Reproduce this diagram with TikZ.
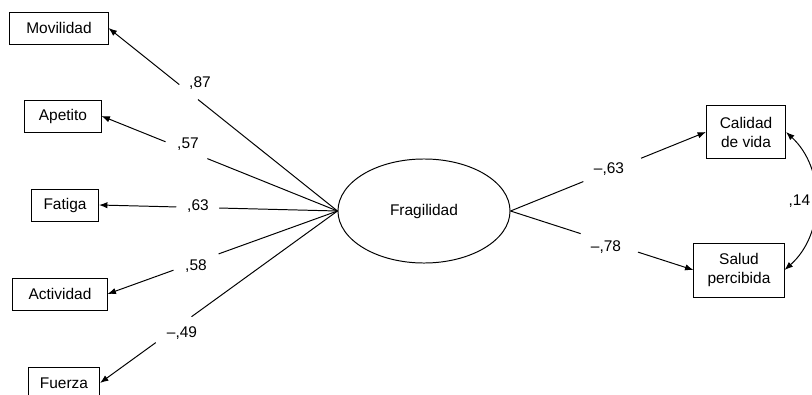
\documentclass[tikz,border=0pt]{standalone}
\usepackage{fontspec}
\setmainfont{Liberation Sans}
\usepackage{tikz}
\usetikzlibrary{arrows.meta, positioning, shapes.geometric}
\tikzset{every node/.style={font=\fontsize{11}{13.5}\selectfont}}

\begin{document}
\begin{tikzpicture}[x=0.025cm, y=-0.025cm, line width=0.7pt,
    indbox/.style={draw, rectangle, minimum height=0.8cm, inner sep=2pt, align=center},
    latent/.style={draw, ellipse, minimum width=4.3cm, minimum height=2.6cm},
    gap/.style={circle, fill=white, inner sep=0pt, minimum size=#1*0.025cm},
    coef/.style={inner sep=1pt},
    load/.style={-{Latex[length=6pt, width=4.5pt]}}]
    \useasboundingbox (0,0) rectangle (812,395);
    % latent factor
    \node[latent] (frag) at (424,211) {Fragilidad};
    % indicators
    \node[indbox, minimum width=2.45cm] (mov) at (59,28) {Movilidad};
    \node[indbox, minimum width=1.9cm] (ape) at (63,116) {Apetito};
    \node[indbox, minimum width=1.675cm] (fat) at (65,205) {Fatiga};
    \node[indbox, minimum width=2.35cm] (act) at (60,294) {Actividad};
    \node[indbox, minimum width=1.775cm] (fue) at (64,383) {Fuerza};
    \node[indbox, minimum width=1.975cm, minimum height=1.325cm] (cal) at (746,132) {Calidad\\de vida};
    \node[indbox, minimum width=2.25cm, minimum height=1.35cm] (sal) at (739,270) {Salud\\percibida};
    % loadings
    \draw[load] (frag.west) -- node[gap=24, pos=0.65] (g1) {} (mov.east);
    \draw[load] (frag.west) -- node[gap=45, pos=0.64] (g2) {} (ape.east);
    \draw[load] (frag.west) -- node[gap=43, pos=0.586] (g3) {} (fat.east);
    \draw[load] (frag.west) -- node[gap=48, pos=0.615] (g4) {} (act.east);
    \draw[load] (frag.west) -- node[gap=44, pos=0.69] (g5) {} (fue.east);
    \draw[load] (frag.east) -- node[gap=62, pos=0.52] (g6) {} (cal.west);
    \draw[load] (frag.east) -- node[gap=60, pos=0.54] (g7) {} (sal.west);
    \node[coef] (c1) at (200,83) {,87};
    \node[coef] (c2) at (188,144) {,57};
    \node[coef] (c3) at (198,206) {,63};
    \node[coef] (c4) at (196,266) {,58};
    \node[coef] (c5) at (182,333) {–,49};
    \node[coef] (c6) at (609,169) {–,63};
    \node[coef] (c7) at (606,247) {–,78};
    % covariance
    \draw[{Latex[length=6pt, width=4.5pt]}-{Latex[length=6pt, width=4.5pt]}]
      (cal.east) to[bend left=48] coordinate[midway] (cmid) (sal.east);
    \node[coef, fill=white, anchor=east, inner sep=2pt] (c8) at ([xshift=1pt]cmid -| 812,0) {,14};
\end{tikzpicture}
\end{document}
